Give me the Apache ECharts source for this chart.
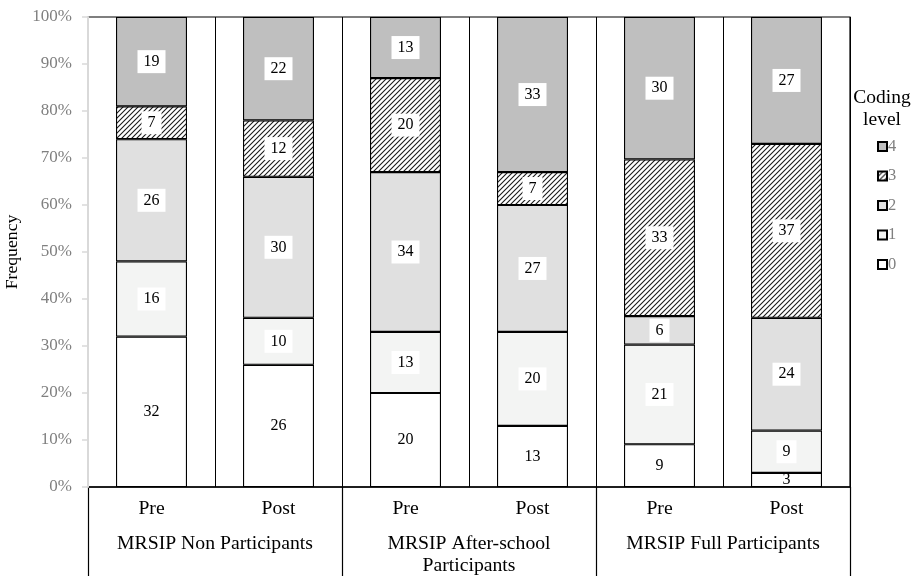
<!DOCTYPE html>
<html><head><meta charset="utf-8">
<script src="https://cdn.jsdelivr.net/npm/echarts@6/dist/echarts.min.js"></script>
<style>html,body{margin:0;padding:0;background:#fff}#c{width:919px;height:576px}</style>
</head><body><div id="c"></div>
<script>
// ---- data ----
const phases = ["Pre", "Post", "Pre", "Post", "Pre", "Post"];
const groups = ["MRSIP Non Participants", "MRSIP After-school\nParticipants", "MRSIP Full Participants"];
const levelNames = ["0", "1", "2", "3", "4"];
const level0 = [32, 26, 20, 13, 9, 3];
const level1 = [16, 10, 13, 20, 21, 9];
const level2 = [26, 30, 34, 27, 6, 24];
const level3 = [7, 12, 20, 7, 33, 37];
const level4 = [19, 22, 13, 33, 30, 27];
const yTicks = [0, 10, 20, 30, 40, 50, 60, 70, 80, 90, 100];

const levels = [level0, level1, level2, level3, level4];
const totals = phases.map((_, i) => levels.reduce((s, a) => s + a[i], 0));

// hatch pattern
const hatch = document.createElement('canvas');
const S = 5;
hatch.width = S; hatch.height = S;
(function(){
  const g = hatch.getContext('2d');
  g.fillStyle = '#fff'; g.fillRect(0, 0, S, S);
  g.strokeStyle = '#1a1a1a'; g.lineWidth = 1.1;
  g.beginPath();
  g.moveTo(-1, S + 1); g.lineTo(S + 1, -1);
  g.moveTo(-1, 1); g.lineTo(1, -1);
  g.moveTo(S - 1, S + 1); g.lineTo(S + 1, S - 1);
  g.stroke();
})();

const fills = ['#ffffff', '#f3f4f3', '#e0e0e0', {image: hatch, repeat: 'repeat'}, '#bfbfbf'];
const serif = 'Liberation Serif';

const series = levels.map((arr, k) => ({
  name: levelNames[k],
  type: 'bar',
  stack: 'all',
  barWidth: 71,
  data: arr.map((v, i) => ({value: v / totals[i] * 100, raw: v})),
  itemStyle: {color: fills[k], borderColor: '#000', borderWidth: 1.1},
  label: {
    show: true,
    position: 'inside',
    formatter: p => String(p.data.raw),
    color: '#000',
    fontFamily: serif,
    fontSize: 16,
    lineHeight: 17,
    backgroundColor: k === 0 ? 'transparent' : '#fff',
    padding: [3, 6]
  }
}));

const chart = echarts.init(document.getElementById('c'), null, {renderer: 'canvas'});
chart.setOption({
  animation: false,
  backgroundColor: '#fff',
  textStyle: {fontFamily: serif},
  title: {
    text: 'Coding\nlevel',
    left: 877, top: 82, textAlign: 'center',
    textStyle: {fontFamily: serif, fontSize: 19.5, fontWeight: 'normal', color: '#000', lineHeight: 22}
  },
  legend: {
    data: ['4', '3', '2', '1', '0'],
    orient: 'vertical',
    left: 872, top: 133,
    itemWidth: 9, itemHeight: 9, itemGap: 12.5,
    icon: 'rect',
    textStyle: {fontFamily: serif, fontSize: 16.5, color: '#808080', padding: [0, 0, 0, -4]}
  },
  grid: {left: 88, right: 69, top: 17, bottom: 89, outerBoundsMode: 'none', containLabel: false,
         show: true, borderColor: '#000', borderWidth: 1.2, backgroundColor: 'transparent'},
  xAxis: [
    {
      type: 'category', data: phases, position: 'bottom',
      axisLine: {show: true, lineStyle: {color: '#000', width: 1.5}},
      axisTick: {show: false},
      splitLine: {show: true, interval: 0, lineStyle: {color: '#000', width: 1}},
      axisLabel: {interval: 0, margin: 12, fontFamily: serif, fontSize: 19.7, color: '#000'}
    },
    {
      type: 'category', data: groups, position: 'bottom',
      axisLine: {show: false},
      axisTick: {show: true, interval: 0, length: 92, lineStyle: {color: '#000', width: 1.2}},
      splitLine: {show: false},
      axisLabel: {interval: 0, margin: 46, fontFamily: serif, fontSize: 19.7, color: '#000', lineHeight: 22, verticalAlign: 'top'}
    }
  ],
  yAxis: {
    type: 'value', min: yTicks[0], max: yTicks[yTicks.length - 1], interval: 10, z: 5,
    name: 'Frequency', nameLocation: 'middle', nameGap: 65, nameRotate: 90,
    nameTextStyle: {fontFamily: serif, fontSize: 17.7, color: '#000'},
    axisLine: {show: true, lineStyle: {color: '#d9d9d9', width: 2}},
    axisTick: {show: true, length: 6, lineStyle: {color: '#d9d9d9', width: 1.5}},
    splitLine: {show: false},
    axisLabel: {formatter: '{value}%', margin: 16, fontFamily: serif, fontSize: 17, color: '#808080'}
  },
  series: series
});
</script>
</body></html>
